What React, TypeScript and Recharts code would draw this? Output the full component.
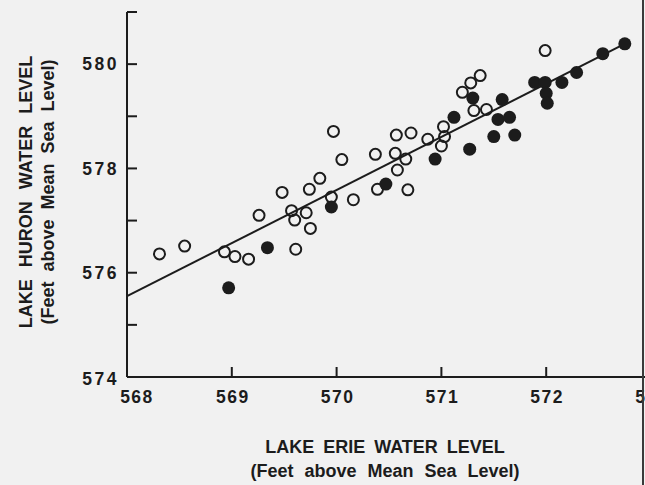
import React from 'react';
import { ScatterChart, Scatter, XAxis, YAxis, ReferenceLine, Label } from 'recharts';

// Lake Erie (x) vs Lake Huron (y) water levels, feet above mean sea level
const openErie = [
  568.31, 568.55, 568.93, 569.03, 569.16, 569.26, 569.48, 569.57, 569.6, 569.61,
  569.71, 569.74, 569.75, 569.84, 569.95, 569.97, 570.05, 570.16, 570.37, 570.39,
  570.56, 570.57, 570.58, 570.66, 570.68, 570.71, 570.87, 571.0, 571.02, 571.03,
  571.2, 571.28, 571.31, 571.37, 571.43, 571.99,
];
const openHuron = [
  576.36, 576.51, 576.4, 576.31, 576.26, 577.1, 577.54, 577.19, 577.01, 576.45,
  577.15, 577.6, 576.85, 577.81, 577.45, 578.71, 578.17, 577.4, 578.27, 577.6,
  578.29, 578.64, 577.97, 578.18, 577.59, 578.68, 578.56, 578.43, 578.8, 578.61,
  579.46, 579.64, 579.11, 579.78, 579.13, 580.26,
];
const filledErie = [
  568.97, 569.34, 569.95, 570.47, 570.94, 571.12, 571.27, 571.3, 571.5, 571.54,
  571.58, 571.65, 571.7, 571.89, 571.99, 572.0, 572.01, 572.15, 572.29, 572.54, 572.75,
];
const filledHuron = [
  575.71, 576.48, 577.26, 577.7, 578.18, 578.98, 578.37, 579.35, 578.61, 578.94,
  579.32, 578.98, 578.64, 579.65, 579.65, 579.44, 579.25, 579.65, 579.84, 580.2, 580.39,
];
// fitted line end points
const fitErie = [568, 572.8];
const fitHuron = [575.55, 580.44];

const xTicks = [568, 569, 570, 571, 572, 573];
const yTicks = [574, 575, 576, 577, 578, 579, 580, 581];

const openData = openErie.map((x, i) => ({ x, y: openHuron[i] }));
const filledData = filledErie.map((x, i) => ({ x, y: filledHuron[i] }));

const INK = '#1c1c1c';
const FONT = '"Liberation Sans", Arial, sans-serif';

const OpenDot = (props: any) => (
  <circle cx={props.cx} cy={props.cy} r={5.5} fill="none" stroke={INK} strokeWidth={2} />
);
const FilledDot = (props: any) => (
  <circle cx={props.cx} cy={props.cy} r={6.5} fill={INK} />
);

const YTick = (props: any) => {
  const { x, y, payload } = props;
  const v = payload.value;
  return (
    <g>
      <line x1={x + 10} x2={x + 20} y1={y} y2={y} stroke={INK} strokeWidth={2} />
      {v % 2 === 0 && (
        <text x={x + 2} y={v === 574 ? y + 2 : y} dy="0.36em" textAnchor="end"
          fontFamily={FONT} fontWeight="bold" fontSize={17.5} letterSpacing={2.5} fill={INK}>
          {v}
        </text>
      )}
    </g>
  );
};

const XTick = (props: any) => {
  const { x, y, payload } = props;
  const v = payload.value;
  return (
    <g>
      {v !== 568 && <line x1={x} x2={x} y1={y - 14} y2={y - 24} stroke={INK} strokeWidth={2} />}
      <text x={v === 568 ? x + 10 : x + 1} y={y} dy="0.71em" textAnchor="middle"
        fontFamily={FONT} fontWeight="bold" fontSize={17.5} letterSpacing={1.5} fill={INK}>
        {v}
      </text>
    </g>
  );
};

const XTitle = (props: any) => {
  const vb = props.viewBox;
  const cx = vb.x + vb.width / 2 - 4;
  return (
    <g fontFamily={FONT} fontWeight="bold" fontSize={18} fill={INK} textAnchor="middle">
      <text x={cx} y={vb.y + 76} wordSpacing={4}>LAKE ERIE WATER LEVEL</text>
      <text x={cx} y={vb.y + 100} wordSpacing={6}>(Feet above Mean Sea Level)</text>
    </g>
  );
};

const YTitle = () => {
  const cy = 192;
  return (
    <g fontFamily={FONT} fontWeight="bold" fontSize={18} fill={INK} textAnchor="middle">
      <text x={32} y={cy} transform={`rotate(-90 32 ${cy})`} wordSpacing={7}>LAKE HURON WATER LEVEL</text>
      <text x={54} y={cy} transform={`rotate(-90 54 ${cy})`} wordSpacing={5}>(Feet above Mean Sea Level)</text>
    </g>
  );
};

export default function App() {
  return (
    <div style={{ position: 'fixed', left: 0, top: 0, width: 645, height: 485, overflow: 'hidden', background: '#f1f1f1' }}>
      <ScatterChart width={690} height={485} margin={{ top: 12, right: 39, bottom: 0, left: 0 }}>
        <XAxis type="number" dataKey="x" domain={[568, 573]} ticks={xTicks} interval={0}
          allowDataOverflow height={108} tickSize={0} tickMargin={14} tick={<XTick />}
          axisLine={{ stroke: INK, strokeWidth: 2 }} tickLine={false}>
          <Label content={<XTitle />} />
        </XAxis>
        <YAxis type="number" dataKey="y" domain={[574, 581]} ticks={yTicks} interval={0}
          allowDataOverflow width={127} tickSize={0} tickMargin={10} tick={<YTick />}
          axisLine={{ stroke: INK, strokeWidth: 2 }} tickLine={false}>
          <Label content={<YTitle />} />
        </YAxis>
        <ReferenceLine
          segment={[{ x: fitErie[0], y: fitHuron[0] }, { x: fitErie[1], y: fitHuron[1] }]}
          stroke={INK} strokeWidth={2} />
        <Scatter data={openData} shape={<OpenDot />} isAnimationActive={false} />
        <Scatter data={filledData} shape={<FilledDot />} isAnimationActive={false} />
      </ScatterChart>
      <div style={{ position: 'absolute', left: 642, top: 0, width: 2, height: 485, background: '#3a3a3a' }} />
    </div>
  );
}
